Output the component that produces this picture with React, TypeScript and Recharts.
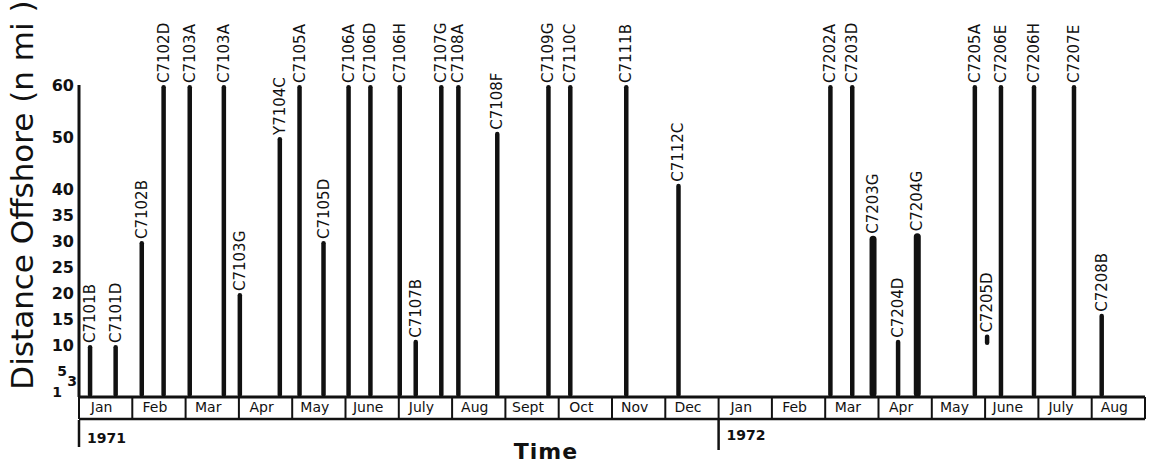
import { ComposedChart, Bar, XAxis, YAxis, LabelList, Label } from 'recharts';

// Cruise tracks, Jan 1971 – Aug 1972. Time is in months from 1 Jan 1971.
const trackNames = [
  'C7101B', 'C7101D', 'C7102B', 'C7102D', 'C7103A', 'C7103A', 'C7103G', 'Y7104C',
  'C7105A', 'C7105D', 'C7106A', 'C7106D', 'C7106H', 'C7107B', 'C7107G', 'C7108A',
  'C7108F', 'C7109G', 'C7110C', 'C7111B', 'C7112C',
  'C7202A', 'C7203D', 'C7203G', 'C7204D', 'C7204G', 'C7205A', 'C7205D', 'C7206E',
  'C7206H', 'C7207E', 'C7208B',
];
const trackTimes = [
  0.21, 0.69, 1.18, 1.59, 2.08, 2.72, 3.02, 3.77,
  4.14, 4.59, 5.06, 5.47, 6.02, 6.32, 6.80, 7.12,
  7.85, 8.81, 9.22, 10.27, 11.25,
  14.10, 14.51, 14.90, 15.37, 15.73, 16.81, 17.04, 17.30,
  17.92, 18.67, 19.19,
];
// inner / outer distance offshore (n mi)
const fromShore = [
  0, 0, 0, 0, 0, 0, 0, 0,
  0, 0, 0, 0, 0, 0, 0, 0,
  0, 0, 0, 0, 0,
  0, 0, 0, 0, 0, 0, 10, 0,
  0, 0, 0,
];
const toShore = [
  10, 10, 30, 60, 60, 60, 20, 50,
  60, 30, 60, 60, 60, 11, 60, 60,
  51, 60, 60, 60, 41,
  60, 60, 31, 11, 31.5, 60, 12, 60,
  60, 60, 16,
];

const monthNames = [
  'Jan', 'Feb', 'Mar', 'Apr', 'May', 'June', 'July', 'Aug', 'Sept', 'Oct', 'Nov', 'Dec',
  'Jan', 'Feb', 'Mar', 'Apr', 'May', 'June', 'July', 'Aug',
];
const yearStarts = [0, 12];
const yearLabels = ['1971', '1972'];
const distTicks = [1, 3, 5, 10, 15, 20, 25, 30, 35, 40, 50, 60];

// these two runs were drawn with a heavier pen
const heavyTracks = new Set(['C7203G', 'C7204G']);

const data = trackNames.map((name, i) => ({
  name,
  t: trackTimes[i],
  span: [fromShore[i], toShore[i]],
}));

const monthMids = monthNames.map((_, i) => i + 0.5);
const monthEdges = Array.from({ length: monthNames.length + 1 }, (_, i) => i);

const INK = '#111';
const FONT = '"DejaVu Sans", sans-serif';
const ROW_H = 22; // height of the month strip

// bottom axes stack in id order: month names, strip rule, years
const MONTH_AXIS = 0;
const STRIP_AXIS = 1;
const YEAR_AXIS = 2;

const TrackBar = (props: any) => {
  const { x, y, width, height, payload } = props;
  const w = heavyTracks.has(payload.name) ? 7 : 4.5;
  const cx = x + width / 2;
  const top = Math.min(y, y + height);
  return <rect x={cx - w / 2} y={top} width={w} height={Math.abs(height)} rx={w / 2} fill={INK} />;
};

const TrackLabel = (props: any) => {
  const { x, y, width, height, value } = props;
  const top = Math.min(y, y + height);
  const cx = x + width / 2;
  return (
    <text
      transform={`translate(${cx},${top - 2}) rotate(-90)`}
      textAnchor="start"
      dominantBaseline="central"
      fontFamily={FONT}
      fontSize={15}
      fill={INK}
    >
      {value}
    </text>
  );
};

const DistTick = (props: any) => {
  const { x, y, payload } = props;
  const v = payload.value;
  const small = v <= 5;
  const dx = v === 3 ? 3 : v === 5 ? -7 : v === 1 ? -12 : 0;
  return (
    <text
      x={x + dx}
      y={y}
      textAnchor="end"
      dominantBaseline="central"
      fontFamily={FONT}
      fontWeight="bold"
      fontSize={small ? 14 : 16}
      fill={INK}
    >
      {v}
    </text>
  );
};

const MonthTick = (props: any) => {
  const { x, y, payload } = props;
  const name = monthNames[Math.floor(payload.value)];
  return (
    <text x={x - 4} y={y + 2} textAnchor="middle" dominantBaseline="central" fontFamily={FONT} fontSize={14} fill={INK}>
      {name}
    </text>
  );
};

// month separators: drawn upward from the strip's bottom rule
const EdgeTick = (props: any) => {
  const { x, y } = props;
  return <line x1={x} y1={y - ROW_H} x2={x} y2={y} stroke={INK} strokeWidth={2} />;
};

const YearTick = (props: any) => {
  const { x, y, payload } = props;
  const idx = yearStarts.indexOf(payload.value);
  return (
    <g>
      <line x1={x} y1={y} x2={x} y2={y + (idx === 0 ? 27 : 30)} stroke={INK} strokeWidth={2.5} />
      <text
        x={x + 8}
        y={y + (idx === 0 ? 18 : 15)}
        dominantBaseline="central"
        fontFamily={FONT}
        fontWeight="bold"
        fontSize={14}
        fill={INK}
      >
        {yearLabels[idx]}
      </text>
    </g>
  );
};

export default function App() {
  return (
    <div style={{ position: 'absolute', left: 0, top: 0, background: '#fff' }}>
      <ComposedChart width={1151} height={466} data={data} margin={{ top: 85, right: 6, bottom: 0, left: 0 }}>
        <XAxis
          xAxisId={MONTH_AXIS}
          type="number"
          dataKey="t"
          domain={[0, 20]}
          allowDataOverflow
          ticks={monthMids}
          interval={0}
          height={ROW_H}
          tickLine={false}
          tick={<MonthTick />}
          axisLine={{ stroke: INK, strokeWidth: 3 }}
        />
        <XAxis
          xAxisId={STRIP_AXIS}
          type="number"
          dataKey="t"
          domain={[0, 20]}
          allowDataOverflow
          ticks={monthEdges}
          interval={0}
          height={1}
          tickSize={0}
          tickMargin={0}
          tickLine={false}
          tick={<EdgeTick />}
          axisLine={{ stroke: INK, strokeWidth: 2.5 }}
        />
        <XAxis
          xAxisId={YEAR_AXIS}
          type="number"
          dataKey="t"
          domain={[0, 20]}
          allowDataOverflow
          ticks={yearStarts}
          interval={0}
          height={46}
          tickSize={0}
          tickMargin={0}
          axisLine={false}
          tickLine={false}
          tick={<YearTick />}
        >
          <Label
            content={({ viewBox }: any) => (
              <text
                x={viewBox.x + viewBox.width * 0.438}
                y={viewBox.y + viewBox.height - 15}
                textAnchor="middle"
                dominantBaseline="central"
                fontFamily={FONT}
                fontWeight="bold"
                fontSize={22}
                letterSpacing={1}
                fill={INK}
              >
                Time
              </text>
            )}
          />
        </XAxis>
        <YAxis
          type="number"
          domain={[0, 60]}
          ticks={distTicks}
          interval={0}
          width={79}
          tickSize={0}
          tickMargin={5}
          tickLine={false}
          tick={<DistTick />}
          axisLine={{ stroke: INK, strokeWidth: 3 }}
        >
          <Label
            content={({ viewBox }: any) => (
              <text
                transform={`translate(${viewBox.x + 22},${viewBox.y + viewBox.height / 2 - 46}) rotate(-90)`}
                textAnchor="middle"
                dominantBaseline="central"
                fontFamily={FONT}
                fontSize={31}
                fill={INK}
              >
                Distance Offshore (n mi )
              </text>
            )}
          />
        </YAxis>
        <Bar xAxisId={MONTH_AXIS} dataKey="span" barSize={6} shape={<TrackBar />} isAnimationActive={false}>
          <LabelList dataKey="name" content={<TrackLabel />} />
        </Bar>
      </ComposedChart>
    </div>
  );
}
